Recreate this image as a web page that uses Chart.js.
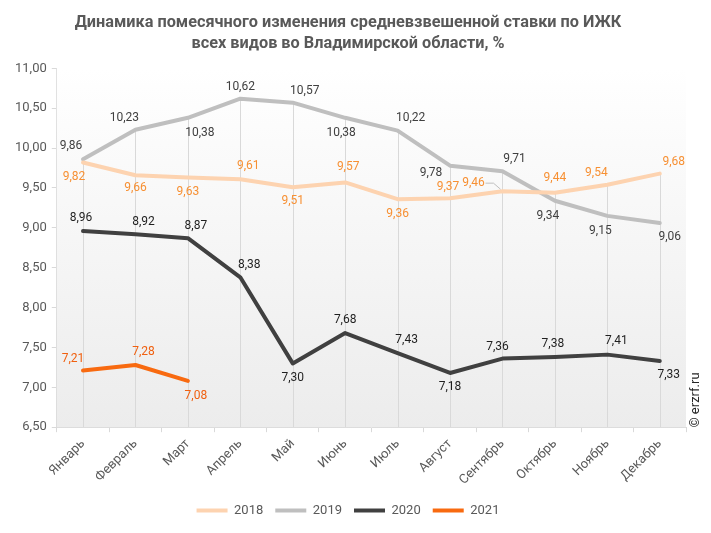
<!DOCTYPE html>
<html>
<head>
<meta charset="utf-8">
<script src="https://cdn.jsdelivr.net/npm/chart.js@4"></script>
<style>
  html, body { margin: 0; padding: 0; background: #fff; }
  #wrap { width: 711px; height: 533px; }
</style>
</head>
<body>
<div id="wrap"><canvas id="myChart"></canvas></div>
<script>
// данные
var months = ['Январь', 'Февраль', 'Март', 'Апрель', 'Май', 'Июнь', 'Июль', 'Август', 'Сентябрь', 'Октябрь', 'Ноябрь', 'Декабрь'];
var years = ['2018', '2019', '2020', '2021'];
var rate2018 = [9.82, 9.66, 9.63, 9.61, 9.51, 9.57, 9.36, 9.37, 9.46, 9.44, 9.54, 9.68];
var rate2019 = [9.86, 10.23, 10.38, 10.62, 10.57, 10.38, 10.22, 9.78, 9.71, 9.34, 9.15, 9.06];
var rate2020 = [8.96, 8.92, 8.87, 8.38, 7.30, 7.68, 7.43, 7.18, 7.36, 7.38, 7.41, 7.33];
var rate2021 = [7.21, 7.28, 7.08, null, null, null, null, null, null, null, null, null];
var yTicks = [6.5, 7, 7.5, 8, 8.5, 9, 9.5, 10, 10.5, 11];

// оформление
var lineColors = ['#fdd3b0', '#bfbfbf', '#404040', '#f86a10'];
var labelColors = ['#f79033', '#404040', '#1f1f1f', '#f06010'];
// смещения подписей от точки, px
var labelOffsets = [
  [[-9,15],[0,13],[0,14],[8,-13],[0,14],[3,-15],[0,15],[-2,-11],[-29,-8],[0,-15],[-11,-12],[14,-12]],
  [[-12,-13],[-11,-12],[12,15],[0,-12],[12,-12],[-4,15],[13,-13],[-19,7],[12,-12],[-7,15],[-7,15],[10,14]],
  [[-2,-13],[8,-12],[8,-12],[9,-12],[0,15],[0,-13],[9,-13],[0,14],[-5,-12],[-2,-13],[9,-14],[9,14]],
  [[-10,-12],[8,-13],[8,15]]
];

function fmt(v) { return v.toFixed(2).replace('.', ','); }

var bgPlugin = {
  id: 'bgGrad',
  beforeDatasetsDraw: function(chart) {
    var ctx = chart.ctx, a = chart.chartArea;
    var g = ctx.createLinearGradient(0, a.top, 0, a.bottom);
    g.addColorStop(0, '#ffffff');
    g.addColorStop(1, '#ececec');
    ctx.save();
    ctx.fillStyle = g;
    ctx.fillRect(a.left, a.top, a.right - a.left, a.bottom - a.top);
    // вертикальные линии от верхней точки вниз
    ctx.strokeStyle = '#d9d9d9';
    ctx.lineWidth = 1;
    for (var i = 0; i < months.length; i++) {
      var minY = null, x = null;
      chart.data.datasets.forEach(function(ds, di) {
        var p = chart.getDatasetMeta(di).data[i];
        if (p && ds.data[i] != null) {
          if (minY === null || p.y < minY) { minY = p.y; x = p.x; }
        }
      });
      if (minY !== null) {
        ctx.beginPath();
        ctx.moveTo(Math.round(x) + 0.5, minY);
        ctx.lineTo(Math.round(x) + 0.5, a.bottom);
        ctx.stroke();
      }
    }
    ctx.restore();
  }
};

var labelPlugin = {
  id: 'valLabels',
  afterDatasetsDraw: function(chart) {
    var ctx = chart.ctx;
    ctx.save();
    ctx.font = '12px Roboto';
    ctx.textAlign = 'center';
    ctx.textBaseline = 'middle';
    chart.data.datasets.forEach(function(ds, di) {
      var meta = chart.getDatasetMeta(di);
      meta.data.forEach(function(pt, i) {
        var v = ds.data[i];
        if (v == null) return;
        var off = labelOffsets[di][i];
        var lx = pt.x + off[0], ly = pt.y + off[1];
        if (di === 0 && i === 8) {
          ctx.strokeStyle = '#bfbfbf';
          ctx.lineWidth = 1;
          ctx.beginPath();
          ctx.moveTo(lx + 12, ly);
          ctx.lineTo(lx + 20, ly);
          ctx.lineTo(pt.x - 2, pt.y - 2);
          ctx.stroke();
        }
        ctx.fillStyle = labelColors[di];
        ctx.fillText(fmt(v), lx, ly);
      });
    });
    // копирайт
    ctx.translate(696, 400);
    ctx.rotate(-Math.PI / 2);
    ctx.fillStyle = '#262626';
    ctx.font = '13px Roboto';
    ctx.fillText('© erzrf.ru', 0, 0);
    ctx.restore();
  }
};

var ctx = document.getElementById('myChart');
new Chart(ctx, {
  type: 'line',
  data: {
    labels: months,
    datasets: [
      { label: years[0], data: rate2018, borderColor: lineColors[0], backgroundColor: lineColors[0] },
      { label: years[1], data: rate2019, borderColor: lineColors[1], backgroundColor: lineColors[1] },
      { label: years[2], data: rate2020, borderColor: lineColors[2], backgroundColor: lineColors[2] },
      { label: years[3], data: rate2021, borderColor: lineColors[3], backgroundColor: lineColors[3] }
    ]
  },
  options: {
    responsive: true,
    maintainAspectRatio: false,
    animation: false,
    devicePixelRatio: 1,
    spanGaps: false,
    elements: {
      line: { borderWidth: 4, tension: 0, borderJoinStyle: 'round', borderCapStyle: 'round' },
      point: { radius: 0, hoverRadius: 0 }
    },
    layout: { padding: { left: 10, right: 25, bottom: 6 } },
    scales: {
      x: {
        offset: true,
        grid: { offset: true, drawOnChartArea: false, drawTicks: true, tickLength: 5, color: '#d9d9d9' },
        border: { color: '#d9d9d9' },
        ticks: { minRotation: 45, maxRotation: 45, color: '#595959', font: { family: 'Roboto', size: 13 }, padding: 4 }
      },
      y: {
        min: 6.5,
        max: 11,
        afterBuildTicks: function(axis) { axis.ticks = yTicks.map(function(v) { return { value: v }; }); },
        grid: { drawOnChartArea: false, drawTicks: true, tickLength: 5, color: '#d9d9d9' },
        border: { color: '#d9d9d9' },
        ticks: { color: '#595959', font: { family: 'Roboto', size: 13 }, padding: 5, callback: function(v) { return fmt(v); } }
      }
    },
    plugins: {
      title: {
        display: true,
        text: ['Динамика помесячного изменения средневзвешенной ставки по ИЖК', 'всех видов во Владимирской области, %'],
        color: '#595959',
        font: { family: "'Liberation Sans Narrow', 'Roboto', sans-serif", size: 16.3, weight: 'bold', lineHeight: 1.3 },
        padding: { top: 12, bottom: 14 }
      },
      legend: {
        position: 'bottom',
        labels: {
          boxWidth: 31,
          boxHeight: 4,
          color: '#595959',
          font: { family: 'Roboto', size: 13 },
          padding: 12,
          generateLabels: function(chart) {
            return chart.data.datasets.map(function(ds, i) {
              return { text: ds.label, fillStyle: ds.borderColor, strokeStyle: ds.borderColor, lineWidth: 0, datasetIndex: i, fontColor: '#595959' };
            });
          }
        }
      },
      tooltip: { enabled: false }
    }
  },
  plugins: [bgPlugin, labelPlugin]
});
</script>
</body>
</html>
